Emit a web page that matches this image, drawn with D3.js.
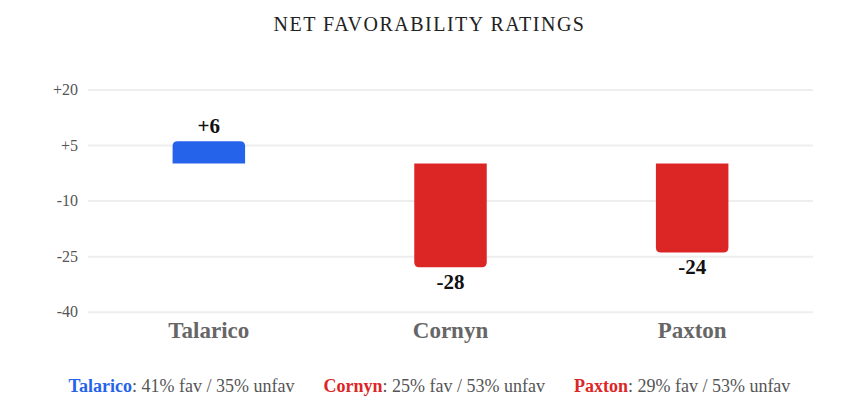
<!DOCTYPE html>
<html>
<head>
<meta charset="utf-8">
<script src="https://cdn.jsdelivr.net/npm/d3@7"></script>
<style>
  html, body { margin: 0; padding: 0; background: #fff; }
  svg { display: block; }
  text { font-family: "Liberation Serif", "DejaVu Serif", serif; }
</style>
</head>
<body>
<svg id="chart"></svg>
<script>
const width = 859;
const height = 418;

// Data
const candidates = ["Talarico", "Cornyn", "Paxton"];
const netValues = [6, -28, -24];
const parties = ["D", "R", "R"];
const favPct = [41, 25, 29];
const unfavPct = [35, 53, 53];
const tickValues = [20, 5, -10, -25, -40];

const rows = candidates.map((name, i) => ({
    name, net: netValues[i], party: parties[i], fav: favPct[i], unfav: unfavPct[i]
}));

const color = d3.scaleOrdinal()
    .domain(["D", "R"])
    .range(["#2563eb", "#dc2626"]);

const svg = d3.select("#chart")
    .attr("width", width)
    .attr("height", height);

const x = d3.scaleBand()
    .domain(candidates)
    .range([88, 813]);

const y = d3.scaleLinear()
    .domain([-40, 20])
    .range([311.7, 89.5]);

// Title
svg.append("text")
    .attr("x", width / 2)
    .attr("y", 31)
    .attr("text-anchor", "middle")
    .attr("font-size", 20)
    .attr("letter-spacing", 1.5)
    .attr("fill", "#222")
    .text("NET FAVORABILITY RATINGS");

// Gridlines + tick labels
const yAxis = svg.append("g")
    .attr("transform", "translate(88,0)")
    .call(d3.axisLeft(y)
        .tickValues(tickValues)
        .tickSize(-(813 - 88))
        .tickPadding(10)
        .tickFormat(d => (d > 0 ? "+" : "") + d));

yAxis.select(".domain").remove();
yAxis.selectAll(".tick line")
    .attr("stroke", "#eeeeee")
    .attr("stroke-width", 2);
yAxis.selectAll(".tick text")
    .attr("font-family", "Liberation Serif, serif")
    .attr("font-size", 16)
    .attr("fill", "#555");

// Bars with rounded outer end
const barW = x.bandwidth() * 0.3;
const r = 5;

function barPath(d) {
    const x0 = x(d.name) + (x.bandwidth() - barW) / 2;
    const x1 = x0 + barW;
    const y0 = y(0);
    const y1 = y(d.net);
    if (d.net >= 0) {
        return `M${x0},${y0} V${y1 + r} Q${x0},${y1} ${x0 + r},${y1} H${x1 - r} Q${x1},${y1} ${x1},${y1 + r} V${y0} Z`;
    }
    return `M${x0},${y0} V${y1 - r} Q${x0},${y1} ${x0 + r},${y1} H${x1 - r} Q${x1},${y1} ${x1},${y1 - r} V${y0} Z`;
}

svg.selectAll(".bar")
    .data(rows)
    .enter()
    .append("path")
    .attr("class", "bar")
    .attr("d", barPath)
    .attr("fill", d => color(d.party));

// Value labels
svg.selectAll(".value")
    .data(rows)
    .enter()
    .append("text")
    .attr("class", "value")
    .attr("x", d => x(d.name) + x.bandwidth() / 2)
    .attr("y", d => d.net >= 0 ? y(d.net) - 8 : y(d.net) + 22)
    .attr("text-anchor", "middle")
    .attr("font-size", 21)
    .attr("font-weight", "bold")
    .attr("fill", "#111")
    .text(d => (d.net > 0 ? "+" : "") + d.net);

// Category labels
svg.selectAll(".cat")
    .data(rows)
    .enter()
    .append("text")
    .attr("class", "cat")
    .attr("x", d => x(d.name) + x.bandwidth() / 2)
    .attr("y", 338)
    .attr("text-anchor", "middle")
    .attr("font-size", 23)
    .attr("font-weight", "bold")
    .attr("fill", "#666")
    .text(d => d.name);

// Footer legend, laid out by measured width
const footer = svg.append("g");
const items = footer.selectAll(".foot")
    .data(rows)
    .enter()
    .append("text")
    .attr("class", "foot")
    .attr("y", 392)
    .attr("font-size", 18)
    .attr("fill", "#555");

items.append("tspan")
    .attr("font-weight", "bold")
    .attr("fill", d => color(d.party))
    .text(d => d.name);
items.append("tspan")
    .text(d => `: ${d.fav}% fav / ${d.unfav}% unfav`);

const gap = 29;
const widths = items.nodes().map(n => n.getComputedTextLength());
const total = d3.sum(widths) + gap * (widths.length - 1);
let cx = width / 2 - total / 2;
items.attr("x", (d, i) => {
    const pos = cx;
    cx += widths[i] + gap;
    return pos;
});
</script>
</body>
</html>
